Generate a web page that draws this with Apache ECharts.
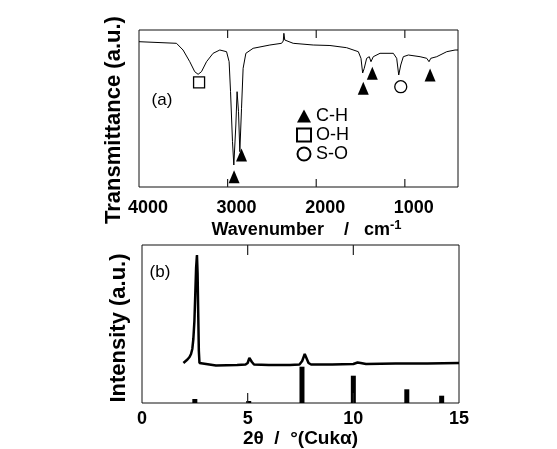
<!DOCTYPE html>
<html>
<head>
<meta charset="utf-8">
<script src="https://cdn.jsdelivr.net/npm/echarts@6/dist/echarts.min.js"></script>
<style>
html, body { margin: 0; padding: 0; background: #fff; }
#main { width: 557px; height: 449px; }
</style>
</head>
<body>
<div id="main"></div>
<script>
// (a) IR spectrum, wavenumber / transmittance (arbitrary units)
const irWave = [4000, 3577, 3503, 3427, 3371, 3333, 3295, 3238, 3164, 3088, 3012, 2983, 2967, 2945, 2930, 2907, 2893, 2877, 2862, 2843, 2825, 2794, 2712, 2523, 2391, 2372, 2365, 2355, 2342, 2260, 2034, 1845, 1657, 1525, 1495, 1476, 1458, 1431, 1401, 1382, 1356, 1280, 1130, 1092, 1069, 1046, 1017, 960, 828, 753, 727, 707, 640, 527, 433, 400];
const irTrans = [145.3, 143.7, 137, 125.3, 115.3, 112.7, 115.3, 125.3, 133.7, 137, 135.3, 125.3, 95.3, 45.3, 22, 62, 95.3, 75.3, 35.3, 78.7, 118.7, 133.7, 138.7, 142, 143.7, 146, 153.7, 147, 145.3, 143.7, 142, 141.5, 139.3, 135.3, 128.7, 114, 118.7, 128.7, 130.3, 125.3, 130.3, 133.7, 133.7, 128.7, 112, 122, 130.3, 132, 130.3, 128.7, 125.3, 128.7, 130.3, 135.3, 137, 137];
const chWave = [2927, 2843, 1469, 1367, 715];
const chTrans = [10.3, 32, 98.7, 113.7, 112];
const ohWave = [3322];
const ohTrans = [104.7];
const soWave = [1046];
const soTrans = [100.3];
const irTicks = [4000, 3000, 2000, 1000];
const irInnerTicks = [3000, 2000, 1000];

// (b) XRD pattern
const xrdAngle = [1.96, 2.05, 2.15, 2.25, 2.32, 2.38, 2.43, 2.48, 2.52, 2.56, 2.6, 2.63, 2.66, 2.69, 2.72, 2.8, 3.5, 4.5, 4.9, 5.0, 5.08, 5.13, 5.2, 5.3, 6.0, 7.0, 7.45, 7.58, 7.7, 7.78, 7.88, 8.0, 9.0, 10.0, 10.2, 10.35, 10.6, 12.0, 13.5, 15.0];
const xrdInt = [40, 41.5, 43.5, 46, 49, 54, 64, 82, 108, 135, 148, 130, 90, 52, 40, 38, 37.5, 38, 38.5, 40, 45, 47, 41, 38.5, 38, 38, 38.5, 42, 49, 45, 40, 38.5, 38.5, 39, 40.5, 40, 39, 39.5, 39.5, 40];
const stickAngle = [2.5, 5.05, 7.57, 10.0, 12.53, 14.18];
const stickInt = [4, 2, 36.3, 27.3, 13.7, 7.3];
const xrdTicks = [0, 5, 10, 15];
const xrdInnerTicks = [5, 10];

const zip = (a, b) => a.map((v, i) => [v, b[i]]);
const font = 'Liberation Sans';
const plain = v => String(v);
const IR_MAX = 157, XRD_MAX = 158;

// short inward tick marks on the bottom and top frame, one small line series each
function tickSeries(values, axisIdx, yMax, len) {
    const out = [];
    values.forEach(v => {
        [[0, len], [yMax - len, yMax]].forEach(([y0, y1]) => {
            out.push({
                type: 'line', xAxisIndex: axisIdx, yAxisIndex: axisIdx,
                data: [[v, y0], [v, y1]], symbol: 'none', silent: true,
                lineStyle: { color: '#222', width: 1.2 }, z: 4
            });
        });
    });
    return out;
}

let chart = echarts.init(document.getElementById('main'));
option = {
    backgroundColor: '#fff',
    animation: false,
    textStyle: { fontFamily: font },
    grid: [
        { left: 139, top: 30, width: 319, height: 157, show: true, borderColor: '#111', borderWidth: 1 },
        { left: 142, top: 245, width: 317, height: 158, show: true, borderColor: '#111', borderWidth: 1 }
    ],
    xAxis: [
        {
            type: 'value', gridIndex: 0, min: 400, max: 4000, inverse: true,
            axisLine: { show: false }, splitLine: { show: false }, axisTick: { show: false },
            axisLabel: { customValues: irTicks, formatter: plain, margin: 12, fontSize: 18, fontWeight: 'bold', color: '#000', padding: [0, 0, 0, 18] },
            name: '{t|Wavenumber    /   cm}{s|-1}', nameLocation: 'middle', nameGap: 32,
            nameTextStyle: {
                padding: [0, 0, 0, 16],
                rich: {
                    t: { fontSize: 18, fontWeight: 'bold', color: '#000', fontFamily: font },
                    s: { fontSize: 13, fontWeight: 'bold', color: '#000', fontFamily: font, padding: [0, 0, 10, 0] }
                }
            }
        },
        {
            type: 'value', gridIndex: 1, min: 0, max: 15, interval: 5,
            axisLine: { show: false }, splitLine: { show: false }, axisTick: { show: false },
            axisLabel: { customValues: xrdTicks, formatter: plain, margin: 7, fontSize: 18, fontWeight: 'bold', color: '#000' },
            name: '2θ  /  °(Cukα)', nameLocation: 'middle', nameGap: 22,
            nameTextStyle: { fontSize: 19, fontWeight: 'bold', color: '#000' }
        }
    ],
    yAxis: [
        { type: 'value', gridIndex: 0, min: 0, max: IR_MAX, show: false },
        { type: 'value', gridIndex: 1, min: 0, max: XRD_MAX, show: false }
    ],
    legend: {
        data: ['C-H', 'O-H', 'S-O'],
        orient: 'vertical', left: 291, top: 102,
        itemWidth: 14, itemHeight: 13, itemGap: 1,
        textStyle: { fontSize: 18, color: '#000', fontFamily: font }
    },
    graphic: [
        { type: 'text', x: 114, y: 120, rotation: Math.PI / 2,
          style: { text: 'Transmittance (a.u.)', font: 'bold 22px "Liberation Sans"', fill: '#000', align: 'center', verticalAlign: 'middle', textAlign: 'center', textVerticalAlign: 'middle' } },
        { type: 'text', x: 119, y: 328, rotation: Math.PI / 2,
          style: { text: 'Intensity (a.u.)', font: 'bold 22px "Liberation Sans"', fill: '#000', align: 'center', verticalAlign: 'middle', textAlign: 'center', textVerticalAlign: 'middle' } },
        { type: 'text', x: 162, y: 100,
          style: { text: '(a)', font: '17px "Liberation Sans"', fill: '#000', align: 'center', verticalAlign: 'middle', textAlign: 'center', textVerticalAlign: 'middle' } },
        { type: 'text', x: 160, y: 272,
          style: { text: '(b)', font: '17px "Liberation Sans"', fill: '#000', align: 'center', verticalAlign: 'middle', textAlign: 'center', textVerticalAlign: 'middle' } }
    ],
    series: [
        {
            name: 'IR', type: 'line', xAxisIndex: 0, yAxisIndex: 0,
            data: zip(irWave, irTrans), showSymbol: false, symbol: 'none',
            lineStyle: { color: '#000', width: 1 }, silent: true, z: 2
        },
        {
            name: 'C-H', type: 'scatter', xAxisIndex: 0, yAxisIndex: 0,
            data: zip(chWave, chTrans), symbol: 'triangle', symbolSize: [11, 13],
            itemStyle: { color: '#000', opacity: 1 }, z: 3
        },
        {
            name: 'O-H', type: 'scatter', xAxisIndex: 0, yAxisIndex: 0,
            data: zip(ohWave, ohTrans), symbol: 'rect', symbolSize: 11,
            itemStyle: { color: '#fff', borderColor: '#000', borderWidth: 1.3, opacity: 1 }, z: 3
        },
        {
            name: 'S-O', type: 'scatter', xAxisIndex: 0, yAxisIndex: 0,
            data: zip(soWave, soTrans), symbol: 'circle', symbolSize: 12,
            itemStyle: { color: '#fff', borderColor: '#000', borderWidth: 1.3, opacity: 1 }, z: 3
        },
        {
            name: 'XRD', type: 'line', xAxisIndex: 1, yAxisIndex: 1,
            data: zip(xrdAngle, xrdInt), showSymbol: false, symbol: 'none',
            lineStyle: { color: '#000', width: 2.5 }, silent: true, z: 2
        },
        {
            name: 'ref', type: 'bar', xAxisIndex: 1, yAxisIndex: 1,
            data: zip(stickAngle, stickInt), barWidth: 5,
            itemStyle: { color: '#000' }, silent: true
        },
        ...tickSeries(irInnerTicks, 0, IR_MAX, 8),
        ...tickSeries(xrdInnerTicks, 1, XRD_MAX, 10)
    ]
};
chart.setOption(option);
</script>
</body>
</html>
